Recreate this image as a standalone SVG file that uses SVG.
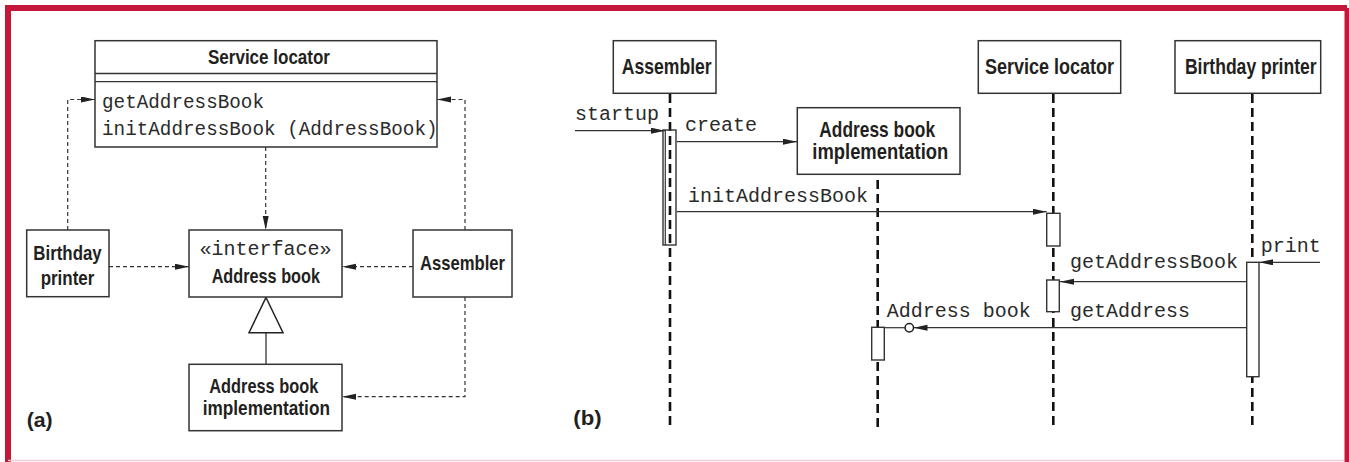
<svg xmlns="http://www.w3.org/2000/svg" width="1349" height="462" viewBox="0 0 1349 462">
<style>
.box{fill:#fff;stroke:#333;stroke-width:1.5}
.lbl{font-family:"Liberation Sans",Arial,sans-serif;font-weight:bold;fill:#231f20;text-anchor:middle}
.tag{font-family:"Liberation Sans",Arial,sans-serif;font-weight:bold;fill:#231f20;text-anchor:start;font-size:21px}
.la{font-size:20.5px}
.lb{font-size:21.5px}
.mono{font-family:"Liberation Mono","Courier New",monospace;fill:#2a2a2a}
.ma{font-size:19.3px}
.mb{font-size:20px}
.dash{fill:none;stroke:#333;stroke-width:1.2;stroke-dasharray:4 3}
.life{fill:none;stroke:#111;stroke-width:2.6;stroke-dasharray:9 5}
.msg{fill:none;stroke:#333;stroke-width:1.2}
.act{fill:#fff;stroke:#333;stroke-width:1.4}
</style>
<defs>
<marker id="ah" markerUnits="userSpaceOnUse" markerWidth="15" markerHeight="7" refX="14" refY="3" orient="auto">
<path d="M0,0 L14,3 L0,6 z" fill="#222"/>
</marker>
</defs>
<rect x="0" y="0" width="1349" height="462" fill="#fff"/>
<!-- frame -->
<path d="M8,462 V8 H1347" fill="none" stroke="#c5173a" stroke-width="6"/>
<line x1="1347" y1="8" x2="1347" y2="462" stroke="#c5173a" stroke-width="5"/>
<line x1="8" y1="460.5" x2="1344" y2="460.5" stroke="#f0d0d6" stroke-width="1.5"/>

<!-- connectors (a) -->
<g id="connectors-a">
<path class="dash" d="M67.7,230 V99.5 H95" marker-end="url(#ah)"/>
<path class="dash" d="M465,230 V99.5 H437" marker-end="url(#ah)"/>
<path class="dash" d="M265.7,147 V230" marker-end="url(#ah)"/>
<path class="dash" d="M109,266.7 H189" marker-end="url(#ah)"/>
<path class="dash" d="M413,266.7 H342" marker-end="url(#ah)"/>
<path class="dash" d="M465,297 V396.7 H342" marker-end="url(#ah)"/>
<line x1="266" y1="332.7" x2="266" y2="364.3" stroke="#333" stroke-width="1.3"/>
<path d="M266,297.5 L283,332.7 L249,332.7 z" fill="#fff" stroke="#222" stroke-width="1.5"/>
</g>

<!-- nodes (a) -->
<g id="a-service-locator">
<rect class="box" x="95" y="40.7" width="342" height="106.3"/>
<line x1="95" y1="73.5" x2="437" y2="73.5" stroke="#333" stroke-width="1.3"/>
<line x1="95" y1="81.7" x2="437" y2="81.7" stroke="#333" stroke-width="1.3"/>
<text class="lbl" x="269" y="64" style="font-size:21px" textLength="122" lengthAdjust="spacingAndGlyphs">Service locator</text>
<text class="mono ma" x="102" y="108">getAddressBook</text>
<text class="mono ma" x="102" y="135">initAddressBook (AddressBook)</text>
</g>
<g id="a-birthday-printer">
<rect class="box" x="26.7" y="230" width="82.3" height="66.7"/>
<text class="lbl la" x="67.5" y="260" textLength="68.3" lengthAdjust="spacingAndGlyphs">Birthday</text>
<text class="lbl la" x="67.5" y="285" textLength="53.7" lengthAdjust="spacingAndGlyphs">printer</text>
</g>
<g id="a-address-book">
<rect class="box" x="189" y="230" width="153" height="67"/>
<text class="mono" x="265.5" y="255" text-anchor="middle" style="font-size:20px">«interface»</text>
<text class="lbl la" x="265.8" y="283" textLength="108.3" lengthAdjust="spacingAndGlyphs">Address book</text>
</g>
<g id="a-assembler">
<rect class="box" x="413" y="230" width="99" height="67"/>
<text class="lbl la" x="462.5" y="270" textLength="85" lengthAdjust="spacingAndGlyphs">Assembler</text>
</g>
<g id="a-impl">
<rect class="box" x="189" y="364.3" width="153" height="66.4"/>
<text class="lbl la" x="263.8" y="393" textLength="109" lengthAdjust="spacingAndGlyphs">Address book</text>
<text class="lbl la" x="266.3" y="415" textLength="127.3" lengthAdjust="spacingAndGlyphs">implementation</text>
</g>
<text class="tag" x="26.7" y="427" textLength="26" lengthAdjust="spacingAndGlyphs">(a)</text>

<!-- (b) lifelines & messages -->
<g id="connectors-b">
<line class="life" x1="670" y1="94" x2="670" y2="429"/>
<line class="life" x1="877.7" y1="180" x2="877.7" y2="429"/>
<line class="life" x1="1053.3" y1="94" x2="1053.3" y2="429"/>
<line class="life" x1="1252.3" y1="94" x2="1252.3" y2="429"/>
<line class="msg" x1="575" y1="130.7" x2="665" y2="130.7" marker-end="url(#ah)"/>
<line class="msg" x1="677" y1="141.7" x2="797" y2="141.7" marker-end="url(#ah)"/>
<line class="msg" x1="677" y1="211.7" x2="1046.7" y2="211.7" marker-end="url(#ah)"/>
<line class="msg" x1="1320" y1="262.3" x2="1259" y2="262.3" marker-end="url(#ah)"/>
<line class="msg" x1="1246.7" y1="281.7" x2="1060" y2="281.7" marker-end="url(#ah)"/>
<line class="msg" x1="1246.7" y1="327.7" x2="913.5" y2="327.7" marker-end="url(#ah)"/>
<line class="msg" x1="905" y1="327.7" x2="884.3" y2="327.7"/>
<circle cx="909.3" cy="327.7" r="4.2" fill="#fff" stroke="#222" stroke-width="1.5"/>
</g>

<g id="b-assembler">
<rect class="box" x="613.3" y="40.7" width="102.7" height="52.6"/>
<text class="lbl lb" x="666.7" y="74" textLength="90" lengthAdjust="spacingAndGlyphs">Assembler</text>
<rect class="act" x="663" y="130" width="13" height="115" style="fill:none"/>
<line x1="665.3" y1="130" x2="665.3" y2="245" stroke="#333" stroke-width="1.2"/>
</g>
<g id="b-impl">
<rect class="box" x="797.3" y="107.7" width="162.7" height="66.6"/>
<text class="lbl lb" x="877.2" y="137" textLength="115.7" lengthAdjust="spacingAndGlyphs">Address book</text>
<text class="lbl lb" x="880.3" y="159" textLength="136" lengthAdjust="spacingAndGlyphs">implementation</text>
<rect class="act" x="871.7" y="327.3" width="12.6" height="32.7"/>
</g>
<g id="b-service-locator">
<rect class="box" x="978.3" y="40.7" width="142.4" height="52.6"/>
<text class="lbl lb" x="1049.5" y="74" textLength="129" lengthAdjust="spacingAndGlyphs">Service locator</text>
<rect class="act" x="1046.7" y="213.3" width="13.3" height="32.7"/>
<rect class="act" x="1046.7" y="280" width="12.6" height="31.7"/>
</g>
<g id="b-birthday-printer">
<rect class="box" x="1175" y="40.7" width="145.7" height="52.6"/>
<text class="lbl lb" x="1250.8" y="74" textLength="131.7" lengthAdjust="spacingAndGlyphs">Birthday printer</text>
<rect class="act" x="1246.7" y="262.3" width="12.3" height="114.4"/>
</g>

<g id="b-labels">
<text class="mono mb" x="575" y="120">startup</text>
<text class="mono mb" x="685" y="131">create</text>
<text class="mono mb" x="688" y="201.7">initAddressBook</text>
<text class="mono mb" x="1260.7" y="251.7">print</text>
<text class="mono mb" x="1070" y="268.3">getAddressBook</text>
<text class="mono mb" x="1070" y="316.7">getAddress</text>
<text class="mono mb" x="886.7" y="316.7">Address book</text>
</g>
<text class="tag" x="573.3" y="425" textLength="28.3" lengthAdjust="spacingAndGlyphs">(b)</text>
</svg>
